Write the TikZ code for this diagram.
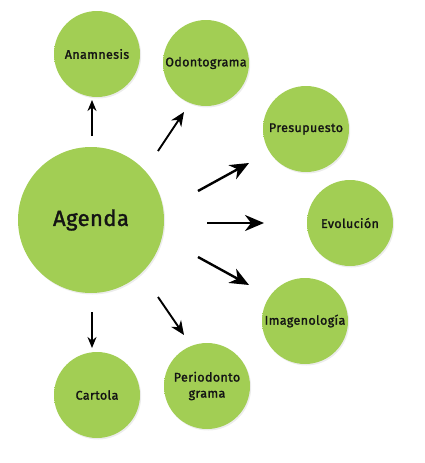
\documentclass[tikz,border=0pt]{standalone}
\usepackage{fontspec}
\setmainfont{Fira Sans}
\newfontfamily\lblfont{Fira Sans}[FakeBold=1.6,LetterSpace=3]
\newfontfamily\bigfont{Fira Sans}[FakeBold=1.6,LetterSpace=2]
\usetikzlibrary{arrows.meta,shadows}
\definecolor{gl}{RGB}{162,206,84}
\definecolor{gm}{RGB}{142,187,64}
\definecolor{gd}{RGB}{98,140,36}
\pgfdeclareradialshading{greenball}{\pgfpoint{-6bp}{6bp}}{%
  color(0bp)=(gl); color(38bp)=(gl); color(46bp)=(gm); color(53bp)=(gd); color(100bp)=(gd)}
\tikzset{
  bubble/.style={circle, inner sep=0pt, minimum size=86pt, shading=greenball,
    drop shadow={opacity=0.15, shadow xshift=1.2pt, shadow yshift=-1.5pt},
    font=\lblfont\fontsize{12.5}{16}\selectfont, text=black!92, align=center},
  bigbubble/.style={bubble, minimum size=146pt, font=\bigfont\fontsize{22}{24}\selectfont},
  arrbig/.style={line width=2.4pt, -{Stealth[length=19pt, width=16pt, inset=6pt]}},
  arrmid/.style={line width=1.9pt, -{Stealth[length=14pt, width=12pt, inset=4.5pt]}},
  arrsmall/.style={line width=1.5pt, -{Stealth[length=11pt, width=9pt, inset=3.5pt]}}
}
\begin{document}
\begin{tikzpicture}[x=1pt,y=-1pt]
\useasboundingbox (0,0) rectangle (425,463);
\node[bigbubble] (agenda) at (91,220) {Agenda};
\node[bubble] (anam) at (97,54) {Anamnesis};
\node[bubble] (odon) at (206,63) {Odontograma};
\node[bubble] (pres) at (306,129) {Presupuesto};
\node[bubble] (evol) at (350,223) {Evolución};
\node[bubble] (imag) at (305,321) {Imagenología};
\node[bubble] (peri) at (207,386) {Periodonto\\grama};
\node[bubble] (cart) at (97,395) {Cartola};
\coordinate (a1s) at (92,136); \coordinate (a1e) at (92,100);
\coordinate (a2s) at (158,151); \coordinate (a2e) at (184,112);
\coordinate (a3s) at (198,191); \coordinate (a3e) at (249,163);
\coordinate (a4s) at (207,223); \coordinate (a4e) at (264,223);
\coordinate (a5s) at (198,257); \coordinate (a5e) at (249,285);
\coordinate (a6s) at (158,297); \coordinate (a6e) at (184,335);
\coordinate (a7s) at (92,312); \coordinate (a7e) at (92,348);
\draw[arrsmall] (a1s) -- (a1e);
\draw[arrmid] (a2s) -- (a2e);
\draw[arrbig] (a3s) -- (a3e);
\draw[arrbig] (a4s) -- (a4e);
\draw[arrbig] (a5s) -- (a5e);
\draw[arrmid] (a6s) -- (a6e);
\draw[arrsmall] (a7s) -- (a7e);
\end{tikzpicture}
\end{document}
